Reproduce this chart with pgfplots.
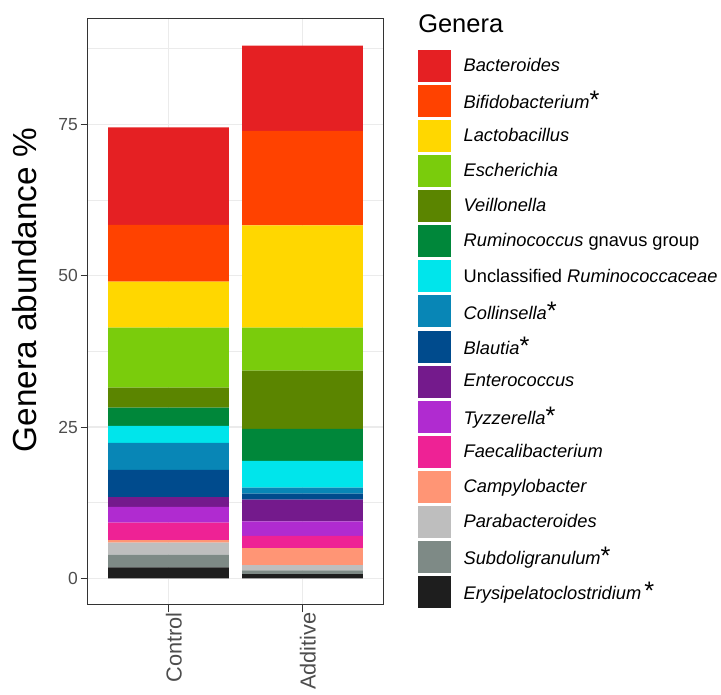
\documentclass[border=0pt]{standalone}
\usepackage{pgfplots}
\pgfplotsset{compat=1.18}
\usepackage{fontspec}
\setmainfont{Liberation Sans}

\definecolor{cBact}{HTML}{E52023}
\definecolor{cBifi}{HTML}{FF4200}
\definecolor{cLact}{HTML}{FFD700}
\definecolor{cEsch}{HTML}{7ACC0C}
\definecolor{cVeil}{HTML}{5B8500}
\definecolor{cRumi}{HTML}{00873A}
\definecolor{cUncl}{HTML}{00E5EB}
\definecolor{cColl}{HTML}{0886B6}
\definecolor{cBlau}{HTML}{004B8D}
\definecolor{cEnte}{HTML}{741A8C}
\definecolor{cTyzz}{HTML}{B02BD0}
\definecolor{cFaec}{HTML}{EE2295}
\definecolor{cCamp}{HTML}{FF9575}
\definecolor{cPara}{HTML}{BEBEBE}
\definecolor{cSubd}{HTML}{7E8A86}
\definecolor{cErys}{HTML}{1E1E1E}
\definecolor{gridc}{HTML}{EBEBEB}
\definecolor{border}{HTML}{333333}
\definecolor{ticktext}{HTML}{4D4D4D}

\newcommand{\sig}{{\upshape\fontsize{19pt}{19pt}\selectfont *}}

\pgfplotsset{
  sq/.style={draw=none, fill=#1,
    legend image code/.code={\fill[fill=#1] (0pt,-12pt) rectangle (24.75pt,12pt);}},
}

\begin{document}
\begin{tikzpicture}
\path[use as bounding box] (0,0) rectangle (540.75pt,521.25pt);
\begin{axis}[
  at={(66pt,67.5pt)}, anchor=south west,
  scale only axis, width=221.25pt, height=439.5pt,
  ybar stacked, bar width=0.9,
  xmin=0.4, xmax=2.6, ymin=-4.4, ymax=92.4,
  xtick={1,2}, xticklabels={Control,Additive},
  ytick={0,25,50,75}, minor ytick={12.5,37.5,62.5,87.5},
  grid=both,
  major grid style={color=gridc, line width=0.9pt},
  minor grid style={color=gridc, line width=0.5pt},
  axis line style={color=border, line width=0.75pt},
  tick align=outside, tick pos=left,
  major tick length=5.5pt, minor tick length=0pt,
  tick style={color=border, line width=0.75pt},
  /pgf/number format/assume math mode=true,
  yticklabel style={font=\fontsize{13.1pt}{13.1pt}\selectfont, color=ticktext, inner sep=0pt, xshift=-2pt},
  xticklabel style={font=\fontsize{16.3pt}{16.3pt}\selectfont, color=ticktext, rotate=90, anchor=east, inner sep=0pt, yshift=-4pt},
  ylabel={Genera abundance \%},
  ylabel style={at={(axis description cs:-0.171,0.5375)}, anchor=south, inner sep=0pt,
    font=\fontsize{25pt}{25pt}\selectfont},
  legend style={at={(axis description cs:1.1186,0.9471)}, anchor=north west,
    draw=none, fill=none, inner sep=0pt, outer sep=0pt, row sep=2.3pt, column sep=9.5pt,
    font=\fontsize{13.7pt}{13.7pt}\selectfont, nodes={inner sep=0pt}},
  legend cell align=left,
  reverse legend,
]
\addplot[sq=cErys] coordinates {(1,1.8) (2,0.7)};
\addlegendentry{\textit{Erysipelatoclostridium}\,\sig}
\addplot[sq=cSubd] coordinates {(1,2.1) (2,0.6)};
\addlegendentry{\textit{Subdoligranulum}\sig}
\addplot[sq=cPara] coordinates {(1,2.0) (2,0.9)};
\addlegendentry{\textit{Parabacteroides}}
\addplot[sq=cCamp] coordinates {(1,0.4) (2,2.8)};
\addlegendentry{\textit{Campylobacter}}
\addplot[sq=cFaec] coordinates {(1,2.9) (2,2.0)};
\addlegendentry{\textit{Faecalibacterium}}
\addplot[sq=cTyzz] coordinates {(1,2.6) (2,2.4)};
\addlegendentry{\textit{Tyzzerella}\sig}
\addplot[sq=cEnte] coordinates {(1,1.6) (2,3.6)};
\addlegendentry{\textit{Enterococcus}}
\addplot[sq=cBlau] coordinates {(1,4.5) (2,1.0)};
\addlegendentry{\textit{Blautia}\sig}
\addplot[sq=cColl] coordinates {(1,4.5) (2,1.0)};
\addlegendentry{\textit{Collinsella}\sig}
\addplot[sq=cUncl] coordinates {(1,2.8) (2,4.4)};
\addlegendentry{Unclassified \textit{Ruminococcaceae}}
\addplot[sq=cRumi] coordinates {(1,3.0) (2,5.3)};
\addlegendentry{\textit{Ruminococcus} gnavus group}
\addplot[sq=cVeil] coordinates {(1,3.3) (2,9.6)};
\addlegendentry{\textit{Veillonella}}
\addplot[sq=cEsch] coordinates {(1,9.9) (2,7.1)};
\addlegendentry{\textit{Escherichia}}
\addplot[sq=cLact] coordinates {(1,7.6) (2,16.9)};
\addlegendentry{\textit{Lactobacillus}}
\addplot[sq=cBifi] coordinates {(1,9.4) (2,15.6)};
\addlegendentry{\textit{Bifidobacterium}\sig}
\addplot[sq=cBact] coordinates {(1,16.1) (2,14.1)};
\addlegendentry{\textit{Bacteroides}}
\end{axis}
\node[anchor=base west, inner sep=0pt, font=\fontsize{19.1pt}{19.1pt}\selectfont] at (313.5pt,496.5pt) {Genera};
\end{tikzpicture}
\end{document}
